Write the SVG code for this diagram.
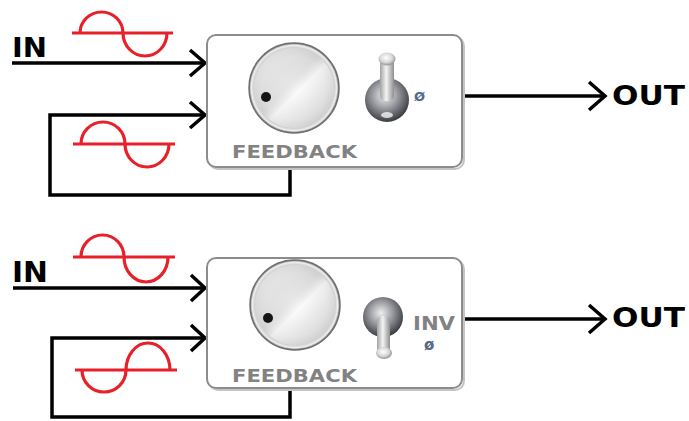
<svg xmlns="http://www.w3.org/2000/svg" width="689" height="421" viewBox="0 0 689 421">
  <style>
    .wire { fill: none; stroke: #000; stroke-width: 3.5; stroke-linejoin: miter; }
    .head { fill: none; stroke: #000; stroke-width: 3.5; stroke-linejoin: miter; stroke-linecap: butt; }
    .wave { fill: none; stroke: #e8202a; stroke-width: 3.2; }
    .box { fill: #fff; stroke: #8c8c8c; stroke-width: 2; }
    .boxshadow { fill: none; stroke: #c4c4c4; stroke-width: 2; }
    .io { font-family: "DejaVu Sans", "Liberation Sans", sans-serif; font-weight: bold; fill: #000; }
    .panel { font-family: "DejaVu Sans", "Liberation Sans", sans-serif; font-weight: bold; fill: #828282; }
    .phase { font-family: "DejaVu Sans", "Liberation Sans", sans-serif; font-weight: bold; fill: #56698a; }
  </style>
  <defs>
    <radialGradient id="knobFace" cx="0.5" cy="0.5" r="0.5">
      <stop offset="0" stop-color="#f9f9f9"/>
      <stop offset="0.7" stop-color="#e4e4e4"/>
      <stop offset="0.9" stop-color="#d2d2d2"/>
      <stop offset="0.95" stop-color="#efefef"/>
      <stop offset="1" stop-color="#7a7a7a"/>
    </radialGradient>
    <linearGradient id="knobSheen" x1="0" y1="0" x2="1" y2="1">
      <stop offset="0" stop-color="#fff" stop-opacity="0.6"/>
      <stop offset="0.45" stop-color="#c4c4c4" stop-opacity="0.3"/>
      <stop offset="0.55" stop-color="#fff" stop-opacity="0.5"/>
      <stop offset="1" stop-color="#b0b0b0" stop-opacity="0.3"/>
    </linearGradient>
    <radialGradient id="ball" cx="0.45" cy="0.4" r="0.6">
      <stop offset="0" stop-color="#eceef0"/>
      <stop offset="0.45" stop-color="#9fa1a6"/>
      <stop offset="0.85" stop-color="#56585d"/>
      <stop offset="1" stop-color="#3a3b3f"/>
    </radialGradient>
    <linearGradient id="lever" x1="0" y1="0" x2="1" y2="0">
      <stop offset="0" stop-color="#a2a2a2"/>
      <stop offset="0.45" stop-color="#f4f4f4"/>
      <stop offset="1" stop-color="#8e8e8e"/>
    </linearGradient>
    <radialGradient id="leverTip" cx="0.45" cy="0.4" r="0.6">
      <stop offset="0" stop-color="#ffffff"/>
      <stop offset="0.6" stop-color="#d8d8d8"/>
      <stop offset="1" stop-color="#929292"/>
    </radialGradient>
  </defs>

  <!-- connectors -->
  <g id="connectors">
    <!-- upper unit -->
    <path class="wire" d="M12,63 H204"/>
    <polyline class="head" points="190,50 205,63 190,76"/>
    <path class="wire" d="M290,167 V195 H50 V115 H204"/>
    <polyline class="head" points="190,102 205,115 190,128"/>
    <path class="wire" d="M462,96 H604"/>
    <polyline class="head" points="589,82 605,96 589,110"/>
    <!-- lower unit -->
    <path class="wire" d="M13,288 H204"/>
    <polyline class="head" points="191,275 205,288 191,301"/>
    <path class="wire" d="M290,388 V417 H52 V338 H204"/>
    <polyline class="head" points="191,325 205,338 191,351"/>
    <path class="wire" d="M462,319 H604"/>
    <polyline class="head" points="589,305 605,319 589,333"/>
  </g>

  <!-- signal waveforms -->
  <g id="waves">
    <path class="wave" d="M72,33 H173 M80,33 A21.5,21 0 0 1 123,33 A22,23 0 0 0 167,33"/>
    <path class="wave" d="M73,144 H175 M81,144 A22,22 0 0 1 125,144 A22,23 0 0 0 169,144"/>
    <path class="wave" d="M73,257 H175 M81,257 A21.5,22 0 0 1 124,257 A22,25 0 0 0 168,257"/>
    <path class="wave" d="M75,370 H177 M82,370 A22,22 0 0 0 126,370 A22,27 0 0 1 170,370"/>
  </g>

  <!-- input / output labels -->
  <g id="labels">
    <text class="io" x="12" y="57" font-size="27" textLength="35" lengthAdjust="spacingAndGlyphs">IN</text>
    <text class="io" x="612" y="105" font-size="27" textLength="73" lengthAdjust="spacingAndGlyphs">OUT</text>
    <text class="io" x="12" y="282" font-size="29" textLength="36" lengthAdjust="spacingAndGlyphs">IN</text>
    <text class="io" x="612" y="327" font-size="27" textLength="73" lengthAdjust="spacingAndGlyphs">OUT</text>
  </g>

  <!-- upper unit: phase normal -->
  <g id="unit-normal">
    <rect class="boxshadow" x="209" y="37" width="255" height="132" rx="9"/>
    <rect class="box" x="207" y="35" width="255" height="132" rx="9"/>
    <circle cx="294" cy="88" r="45" fill="url(#knobFace)" stroke="#6f6f6f" stroke-width="1.5"/>
    <circle cx="294" cy="88" r="40" fill="url(#knobSheen)"/>
    <circle cx="266" cy="97" r="5" fill="#151515"/>
    <ellipse cx="387" cy="100" rx="22" ry="22" fill="url(#ball)"/>
    <rect x="380" y="59" width="14" height="42" rx="5" fill="url(#lever)"/>
    <ellipse cx="387" cy="59" rx="8.5" ry="6.5" fill="url(#leverTip)"/>
    <ellipse cx="387" cy="115" rx="6" ry="3" fill="#f2f2f2" opacity="0.8"/>
    <text class="phase" x="414" y="101" font-size="13">Ø</text>
    <text class="panel" x="232" y="158" font-size="18" textLength="125" lengthAdjust="spacingAndGlyphs">FEEDBACK</text>
  </g>

  <!-- lower unit: phase inverted -->
  <g id="unit-inverted">
    <rect class="boxshadow" x="209" y="260" width="255" height="130" rx="9"/>
    <rect class="box" x="207" y="258" width="255" height="130" rx="9"/>
    <circle cx="295" cy="305" r="45" fill="url(#knobFace)" stroke="#6f6f6f" stroke-width="1.5"/>
    <circle cx="295" cy="305" r="40" fill="url(#knobSheen)"/>
    <circle cx="268" cy="318" r="5" fill="#151515"/>
    <ellipse cx="383" cy="317" rx="20" ry="20" fill="url(#ball)"/>
    <rect x="377" y="316" width="13" height="38" rx="5" fill="url(#lever)"/>
    <ellipse cx="384" cy="353" rx="8" ry="6" fill="url(#leverTip)"/>
    <text class="panel" x="413" y="330" font-size="20" textLength="42" lengthAdjust="spacingAndGlyphs">INV</text>
    <text class="phase" x="424" y="350" font-size="15">ø</text>
    <text class="panel" x="232" y="382" font-size="18" textLength="125" lengthAdjust="spacingAndGlyphs">FEEDBACK</text>
  </g>
</svg>
